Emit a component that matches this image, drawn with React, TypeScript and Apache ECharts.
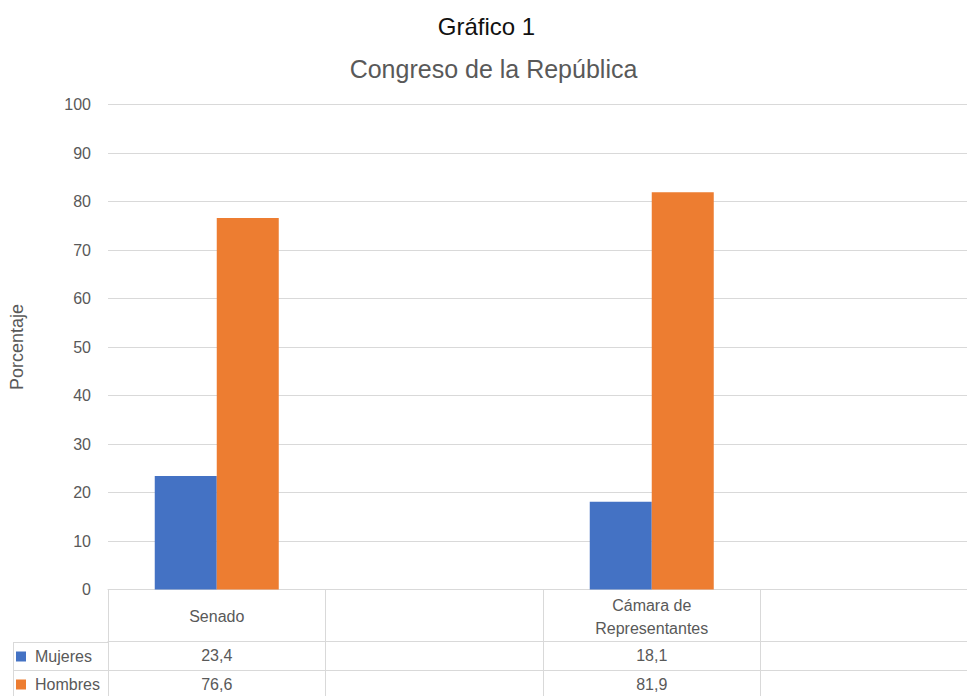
import React, { useEffect, useRef } from "react";
import * as echarts from "echarts";

const categories = ["Senado", "", "Cámara de\nRepresentantes", ""];
const seriesNames = ["Mujeres", "Hombres"];
const mujeres: (number | null)[] = [23.4, null, 18.1, null];
const hombres: (number | null)[] = [76.6, null, 81.9, null];
const yMin = 0;
const yMax = 100;
const yInterval = 10;
const titleText = "Gráfico 1";
const subtitleText = "Congreso de la República";
const yAxisName = "Porcentaje";

const colors = ["#4472C4", "#ED7D31"];
const FONT = "Liberation Sans";
const GRID = "#d9d9d9";
const TXT = "#595959";

const fmt = (v: number | null) => (v == null ? "" : v.toFixed(1).replace(".", ","));

export default function App() {
  const ref = useRef<HTMLDivElement>(null);
  useEffect(() => {
    document.body.style.margin = "0";
    const chart = echarts.init(ref.current!, undefined, { renderer: "svg" });
    const tableAxis = (data: string[], offset: number) => ({
      type: "category",
      gridIndex: 0,
      position: "bottom",
      offset,
      data,
      axisLine: { show: true, lineStyle: { color: GRID, width: 1 } },
      axisTick: { show: false },
      axisLabel: {
        interval: 0,
        color: TXT,
        fontFamily: FONT,
        fontSize: 16,
        verticalAlign: "middle",
        margin: 14,
      },
      splitLine: { show: false },
    });
    const legendItem = (name: string, top: number) => ({
      data: [name],
      orient: "vertical",
      left: 16,
      top,
      padding: 0,
      itemGap: 0,
      itemWidth: 10,
      itemHeight: 10,
      icon: "rect",
      selectedMode: false,
      textStyle: {
        fontFamily: FONT,
        fontSize: 16,
        color: TXT,
        lineHeight: 28,
        padding: [0, 0, 0, 4],
      },
    });
    chart.setOption({
      animation: false,
      backgroundColor: "#ffffff",
      color: colors,
      title: [
        {
          text: titleText,
          left: 486.5,
          top: 14,
          textAlign: "center",
          padding: 0,
          textStyle: { fontFamily: FONT, fontSize: 24, fontWeight: "normal", color: "#111111" },
        },
        {
          text: subtitleText,
          left: 493.5,
          top: 56,
          textAlign: "center",
          padding: 0,
          textStyle: { fontFamily: FONT, fontSize: 25, fontWeight: "normal", color: TXT },
        },
      ],
      legend: [legendItem(seriesNames[0], 642.5), legendItem(seriesNames[1], 670.5)],
      grid: { left: 108, right: 0, top: 104.5, bottom: 106.5, containLabel: false },
      xAxis: [
        {
          type: "category",
          gridIndex: 0,
          position: "bottom",
          data: categories,
          boundaryGap: true,
          axisLine: { show: true, lineStyle: { color: GRID, width: 1 } },
          axisTick: {
            show: true,
            interval: 0,
            alignWithLabel: false,
            length: 110,
            lineStyle: { color: GRID, width: 1 },
          },
          axisLabel: {
            interval: 0,
            color: TXT,
            fontFamily: FONT,
            fontSize: 16,
            lineHeight: 23,
            align: "center",
            verticalAlign: "middle",
            margin: 27,
          },
          splitLine: { show: false },
        },
        tableAxis(mujeres.map(fmt), 52),
        tableAxis(hombres.map(fmt), 80.5),
      ],
      yAxis: {
        type: "value",
        min: yMin,
        max: yMax,
        interval: yInterval,
        name: yAxisName,
        nameLocation: "middle",
        nameRotate: 90,
        nameGap: 82,
        nameTextStyle: { fontFamily: FONT, fontSize: 18, color: TXT },
        axisLine: { show: false },
        axisTick: { show: false },
        axisLabel: { color: TXT, fontFamily: FONT, fontSize: 16, margin: 17 },
        splitLine: { show: true, lineStyle: { color: GRID, width: 1 } },
      },
      series: [
        {
          name: seriesNames[0],
          type: "bar",
          xAxisIndex: 0,
          data: mujeres,
          barWidth: 62,
          barGap: "0%",
          itemStyle: { color: colors[0] },
        },
        {
          name: seriesNames[1],
          type: "bar",
          xAxisIndex: 0,
          data: hombres,
          barWidth: 62,
          barGap: "0%",
          itemStyle: { color: colors[1] },
        },
      ],
      graphic: [
        { type: "line", shape: { x1: 13, y1: 642.5, x2: 108, y2: 642.5 }, style: { stroke: GRID, lineWidth: 1 } },
        { type: "line", shape: { x1: 13, y1: 670.5, x2: 108, y2: 670.5 }, style: { stroke: GRID, lineWidth: 1 } },
        { type: "line", shape: { x1: 13.5, y1: 642, x2: 13.5, y2: 700 }, style: { stroke: GRID, lineWidth: 1 } },
      ],
    });
    return () => chart.dispose();
  }, []);
  return (
    <div style={{ width: 967, height: 696, overflow: "hidden", position: "relative" }}>
      <div ref={ref} style={{ width: 978, height: 696 }} />
    </div>
  );
}
